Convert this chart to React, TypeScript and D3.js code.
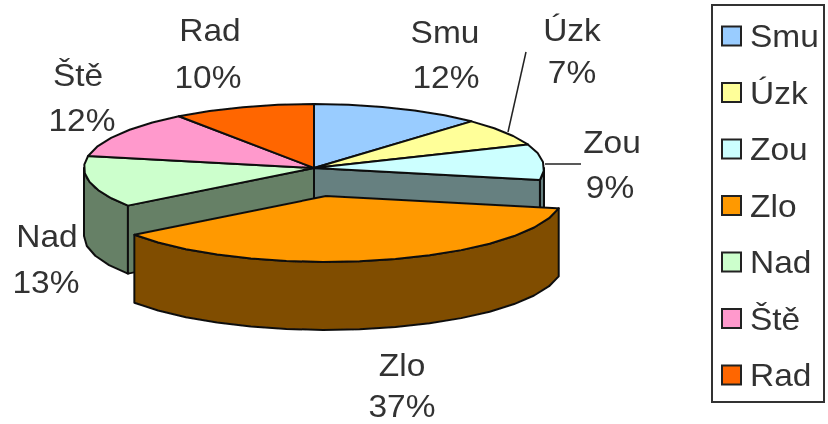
import React, { useEffect, useRef } from 'react';
import * as d3 from 'd3';

const categories = ['Smu', 'Úzk', 'Zou', 'Zlo', 'Nad', 'Ště', 'Rad'];
const shares = [12, 7, 9, 37, 13, 12, 10];
const colors = ['#99ccff', '#ffff99', '#ccffff', '#ff9900', '#ccffcc', '#ff99cc', '#ff6600'];

// label centres, one per category: [name x, name y, percent x, percent y]
const labelSpots = [
  [445, 32, 446, 77],
  [572, 30, 572, 72],
  [612, 142, 610, 187],
  [402, 365, 402, 406],
  [47, 236, 46, 282],
  [78, 75, 82, 120],
  [210, 30, 208, 77],
];

const App = () => {
  const svgRef = useRef<SVGSVGElement>(null);

  useEffect(() => {
    const svg = d3.select(svgRef.current);
    svg.selectAll('*').remove();

    const cx = 314;
    const cy = 168;
    const rx = 230;
    const ry = 64;
    const depth = 68;
    const exploded = 'Zlo';
    const blastX = 12;
    const blastY = 28;
    const blastScale = 1.03;
    const font = '"Liberation Sans", Arial, sans-serif';
    const fontSize = 31;
    const stretch = 1.08; // the source picture is a bit wider than tall
    const textColor = '#333333';

    const color = d3.scaleOrdinal<string, string>().domain(categories).range(colors);
    const pie = d3.pie<number>().sort(null).value(d => d);
    const arcs = pie(shares).map((a, i) => ({ ...a, name: categories[i] }));

    const project = (a: number, dx = 0, dy = 0, k = 1): [number, number] => [
      cx + dx + k * rx * Math.sin(a),
      cy + dy - k * ry * Math.cos(a),
    ];
    const arcPoints = (a0: number, a1: number, dx = 0, dy = 0, k = 1) => {
      const n = Math.max(1, Math.ceil((a1 - a0) / 0.16));
      return d3.range(n + 1).map(i => project(a0 + ((a1 - a0) * i) / n, dx, dy, k));
    };
    const line = d3.line().curve(d3.curveLinear);
    const shade = (name: string) => {
      const c = d3.rgb(color(name));
      return d3.rgb(c.r / 2, c.g / 2, c.b / 2).formatHex();
    };
    const drop = (pts: [number, number][]) =>
      pts.map(p => [p[0], p[1] + depth] as [number, number]).reverse();

    svg.append('defs').append('filter').attr('id', 'soft')
      .append('feGaussianBlur').attr('stdDeviation', 0.5);
    const root = svg.append('g').attr('filter', 'url(#soft)');

    const layer = root.append('g').attr('stroke', '#111').attr('stroke-width', 2).attr('stroke-linejoin', 'round');

    type Slice = (typeof arcs)[number];
    const drawRim = (a: Slice, dx = 0, dy = 0, k = 1) => {
      const from = Math.max(a.startAngle, Math.PI / 2);
      const to = Math.min(a.endAngle, (3 * Math.PI) / 2);
      if (to <= from) return;
      const rim = arcPoints(from, to, dx, dy, k);
      layer.append('path').attr('d', line([...rim, ...drop(rim)])! + 'Z').attr('fill', shade(a.name));
    };
    const drawCut = (a: Slice, angle: number) => {
      const cut = [[cx, cy], project(angle)] as [number, number][];
      layer.append('path').attr('d', line([...cut, ...drop(cut)])! + 'Z').attr('fill', shade(a.name));
    };
    const drawTop = (a: Slice, dx = 0, dy = 0, k = 1) => {
      const pts = [[cx + dx, cy + dy] as [number, number], ...arcPoints(a.startAngle, a.endAngle, dx, dy, k)];
      layer.append('path').attr('d', line(pts)! + 'Z').attr('fill', color(a.name));
    };

    const at = categories.indexOf(exploded);
    const rest = arcs.filter(a => a.name !== exploded);
    rest.forEach(a => drawRim(a));
    // the hole left by the pulled out slice shows the cut faces of its neighbours
    drawCut(arcs[at - 1], arcs[at - 1].endAngle);
    drawCut(arcs[at + 1], arcs[at + 1].startAngle);
    rest.forEach(a => drawTop(a));
    drawRim(arcs[at], blastX, blastY, blastScale);
    drawTop(arcs[at], blastX, blastY, blastScale);

    // leader lines
    const leaders = [
      [526, 52, 508, 132],
      [581, 164, 545, 164],
    ];
    leaders.forEach(l =>
      root.append('line')
        .attr('x1', l[0]).attr('y1', l[1]).attr('x2', l[2]).attr('y2', l[3])
        .attr('stroke', '#222').attr('stroke-width', 1.5)
    );

    // data labels
    const labels = root.append('g')
      .attr('font-family', font).attr('font-size', fontSize)
      .attr('fill', textColor).attr('text-anchor', 'middle');
    categories.forEach((name, i) => {
      const s = labelSpots[i];
      labels.append('text').attr('transform', `translate(${s[0]},${s[1] + 11}) scale(${stretch},1)`).text(name);
      labels.append('text').attr('transform', `translate(${s[2]},${s[3] + 11}) scale(${stretch},1)`).text(`${shares[i]}%`);
    });

    // legend
    const legendY = d3.scalePoint<string>().domain(categories).range([36, 375]);
    root.append('rect')
      .attr('x', 712).attr('y', 5).attr('width', 112).attr('height', 397)
      .attr('fill', '#fff').attr('stroke', '#333').attr('stroke-width', 2);
    const rows = root.append('g').selectAll('g').data(categories).enter().append('g')
      .attr('transform', d => `translate(722,${legendY(d)})`);
    rows.append('rect')
      .attr('x', 0).attr('y', -9.5).attr('width', 19).attr('height', 19)
      .attr('fill', d => color(d)).attr('stroke', '#222').attr('stroke-width', 2);
    rows.append('text')
      .attr('transform', `translate(28,11) scale(${stretch},1)`)
      .attr('font-family', font).attr('font-size', fontSize).attr('fill', textColor)
      .text(d => d);
  }, []);

  return (
    <svg
      ref={svgRef}
      width={828}
      height={424}
      style={{ position: 'absolute', left: 0, top: 0, background: '#fff' }}
    />
  );
};

export default App;
